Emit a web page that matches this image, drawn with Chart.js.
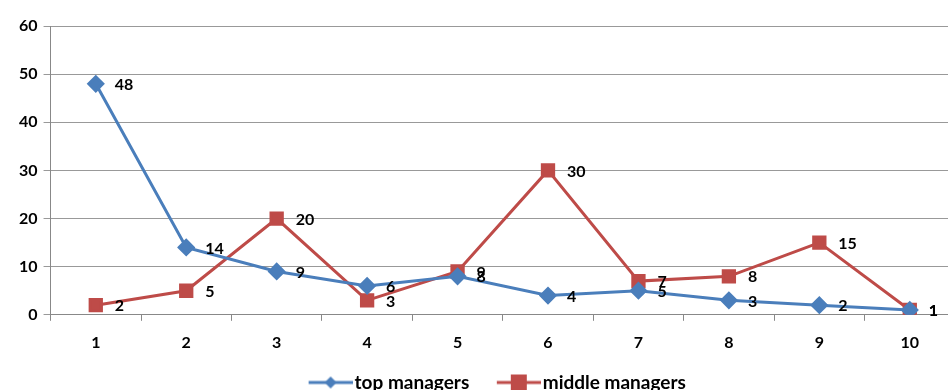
<!DOCTYPE html>
<html>
<head>
<meta charset="utf-8">
<script src="https://cdn.jsdelivr.net/npm/chart.js@4"></script>
<style>
  html, body { margin: 0; padding: 0; background: #fff; overflow: hidden; }
  #wrap { width: 966px; height: 390px; }
</style>
</head>
<body>
<div id="wrap"><canvas id="chart"></canvas></div>
<script>
const categories = ["1", "2", "3", "4", "5", "6", "7", "8", "9", "10"];
const topManagers = [48, 14, 9, 6, 8, 4, 5, 3, 2, 1];
const middleManagers = [2, 5, 20, 3, 9, 30, 7, 8, 15, 1];

const blue = "#4A7EBB";
const red = "#BE4B48";
const font = "Lato, 'Open Sans', sans-serif";

// legend swatch: line with marker, drawn at the right end of a wider canvas
function legendIcon(color, shape) {
  const c = document.createElement("canvas");
  c.width = 70;
  c.height = 18;
  const g = c.getContext("2d");
  g.strokeStyle = color;
  g.lineWidth = 3;
  g.beginPath();
  g.moveTo(26, 9);
  g.lineTo(70, 9);
  g.stroke();
  g.fillStyle = color;
  g.beginPath();
  if (shape === "diamond") {
    g.moveTo(48, 3);
    g.lineTo(54, 9);
    g.lineTo(48, 15);
    g.lineTo(42, 9);
  } else {
    g.rect(40, 1, 16, 16);
  }
  g.fill();
  return c;
}

const dataLabels = {
  id: "dataLabels",
  afterDatasetsDraw(chart) {
    const ctx = chart.ctx;
    ctx.save();
    ctx.font = "bold 16px " + font;
    ctx.fillStyle = "#000";
    ctx.textAlign = "left";
    ctx.textBaseline = "middle";
    chart.data.datasets.forEach((ds, i) => {
      chart.getDatasetMeta(i).data.forEach((pt, j) => {
        ctx.fillText(ds.data[j], pt.x + 19, pt.y + 1);
      });
    });
    ctx.restore();
  },
};

new Chart(document.getElementById("chart").getContext("2d"), {
  type: "line",
  data: {
    labels: categories,
    datasets: [
      {
        label: "top managers",
        data: topManagers,
        borderColor: blue,
        backgroundColor: blue,
        borderWidth: 3,
        pointStyle: "rectRot",
        pointRadius: 7,
        pointHoverRadius: 7,
        tension: 0,
      },
      {
        label: "middle managers",
        data: middleManagers,
        borderColor: red,
        backgroundColor: red,
        borderWidth: 3,
        pointStyle: "rect",
        pointRadius: 8,
        pointHoverRadius: 8,
        tension: 0,
      },
    ],
  },
  options: {
    responsive: true,
    maintainAspectRatio: false,
    animation: false,
    layout: { padding: { top: 26, right: 3, left: 13, bottom: -12 } },
    plugins: {
      tooltip: { enabled: false },
      legend: {
        position: "bottom",
        labels: {
          color: "#000",
          font: { family: font, size: 19, weight: "bold" },
          usePointStyle: true,
          pointStyleWidth: 55,
          padding: 9,
          generateLabels(chart) {
            return chart.data.datasets.map((ds, i) => ({
              text: ds.label,
              fillStyle: ds.borderColor,
              strokeStyle: ds.borderColor,
              pointStyle: legendIcon(ds.borderColor, i === 0 ? "diamond" : "square"),
              datasetIndex: i,
              fontColor: "#000",
            }));
          },
        },
      },
    },
    scales: {
      x: {
        offset: true,
        grid: {
          offset: true,
          drawOnChartArea: false,
          drawTicks: true,
          tickLength: 6,
          color: "#888",
        },
        border: { color: "#888", width: 1 },
        ticks: {
          color: "#000",
          font: { family: font, size: 16, weight: "bold" },
          padding: 12,
          autoSkip: false,
          maxRotation: 0,
        },
      },
      y: {
        min: 0,
        max: 60,
        grid: { color: "#999", tickLength: 7 },
        border: { color: "#888", width: 1 },
        ticks: {
          stepSize: 10,
          color: "#000",
          font: { family: font, size: 16, weight: "bold" },
          padding: 6,
        },
      },
    },
  },
  plugins: [dataLabels],
});
</script>
</body>
</html>
